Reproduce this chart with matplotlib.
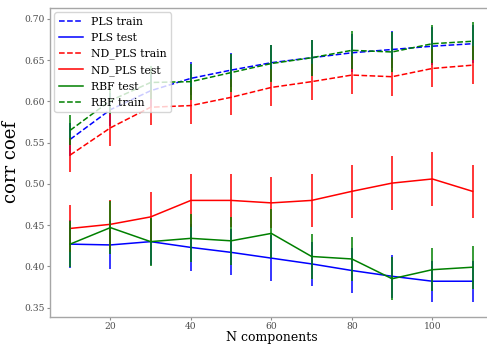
import numpy as np
import matplotlib
matplotlib.use("Agg")
import matplotlib.pyplot as plt

plt.rcParams['font.family'] = 'DejaVu Serif'

n_comp = [10, 20, 30, 40, 50, 60, 70, 80, 90, 100, 110]

pls_train = [0.554, 0.590, 0.613, 0.628, 0.638, 0.647, 0.653, 0.659, 0.663, 0.667, 0.670]
pls_train_err = [0.020, 0.020, 0.020, 0.020, 0.021, 0.022, 0.022, 0.023, 0.023, 0.023, 0.023]
pls_test = [0.427, 0.426, 0.430, 0.423, 0.417, 0.410, 0.403, 0.395, 0.388, 0.382, 0.382]
pls_test_err = [0.029, 0.029, 0.028, 0.028, 0.028, 0.028, 0.027, 0.027, 0.026, 0.025, 0.025]

nd_train = [0.535, 0.568, 0.593, 0.595, 0.605, 0.617, 0.624, 0.632, 0.630, 0.640, 0.644]
nd_train_err = [0.021, 0.022, 0.021, 0.022, 0.022, 0.022, 0.022, 0.023, 0.023, 0.023, 0.023]
nd_test = [0.446, 0.451, 0.460, 0.480, 0.480, 0.477, 0.480, 0.491, 0.501, 0.506, 0.491]
nd_test_err = [0.029, 0.030, 0.030, 0.032, 0.032, 0.031, 0.032, 0.032, 0.033, 0.033, 0.032]

rbf_test = [0.427, 0.447, 0.430, 0.434, 0.431, 0.440, 0.412, 0.409, 0.385, 0.396, 0.399]
rbf_test_err = [0.028, 0.032, 0.029, 0.029, 0.029, 0.030, 0.027, 0.027, 0.026, 0.026, 0.026]
rbf_train = [0.565, 0.601, 0.623, 0.624, 0.635, 0.646, 0.653, 0.662, 0.660, 0.670, 0.673]
rbf_train_err = [0.018, 0.016, 0.020, 0.022, 0.023, 0.023, 0.022, 0.023, 0.024, 0.023, 0.023]

series = [
    (pls_train, pls_train_err, 'b', '--', 'PLS train'),
    (pls_test, pls_test_err, 'b', '-', 'PLS test'),
    (nd_train, nd_train_err, 'r', '--', 'ND_PLS train'),
    (nd_test, nd_test_err, 'r', '-', 'ND_PLS test'),
    (rbf_test, rbf_test_err, 'g', '-', 'RBF test'),
    (rbf_train, rbf_train_err, 'g', '--', 'RBF train'),
]

fig = plt.figure(figsize=(4.87, 3.44), dpi=100)
ax = fig.add_axes([0.1027, 0.0794, 0.909, 0.8973])

for vals, err, c, ls, lab in series:
    ax.errorbar(n_comp, vals, yerr=err, fmt='none', ecolor=c, elinewidth=1.1)
    ax.plot(n_comp, vals, color=c, ls=ls, lw=1.1, label=lab)

ax.set_xlim(5, 115)
ax.set_ylim(0.339, 0.7133)
ax.set_xticks([20, 40, 60, 80, 100])
ax.set_yticks([0.35, 0.40, 0.45, 0.50, 0.55, 0.60, 0.65, 0.70])
ax.tick_params(labelsize=6.6, labelcolor='0.3', color='0.55', length=2, width=0.8, pad=2)
for s in ax.spines.values():
    s.set_color('0.65')
    s.set_linewidth(1)

ax.set_xlabel('N components', fontsize=9, labelpad=0)
ax.set_ylabel('corr coef', fontsize=13, labelpad=3)
ax.legend(loc='upper left', fontsize=7.8, handlelength=2.2, labelspacing=0.55,
          borderpad=0.4, framealpha=0.8, borderaxespad=0.4)

fig.savefig('out.png', dpi=100)
